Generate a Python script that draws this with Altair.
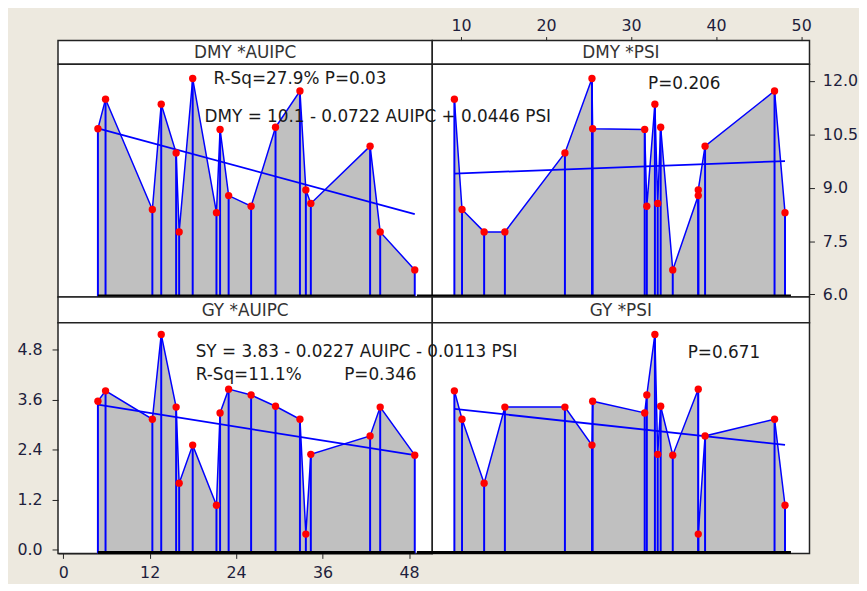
import altair as alt
import pandas as pd

auipc = [4.81, 5.87, 12.37, 13.6, 15.67, 16.09, 17.97, 21.27, 21.77, 22.96,
         26.08, 29.47, 32.86, 33.68, 34.37, 42.6, 44.0, 48.8]
psi = [25.48, 9.22, 10.12, 32.8, 22.22, 12.72, 25.4, 48.1, 31.6, 37.9,
       31.85, 33.48, 46.87, 37.9, 33.13, 38.7, 15.16, 34.9]
dmy = [10.66, 11.49, 8.39, 11.35, 9.98, 7.76, 12.07, 8.30, 10.64, 8.78,
       8.48, 10.70, 11.72, 8.94, 8.56, 10.17, 7.76, 6.69]
gy = [3.56, 3.81, 3.13, 5.16, 3.42, 1.60, 2.51, 1.07, 3.28, 3.85,
      3.71, 3.44, 3.13, 0.38, 2.29, 2.73, 3.42, 2.27]

# ---- axis ticks ----
auipc_ticks = [0, 12, 24, 36, 48]
psi_ticks = [10, 20, 30, 40, 50]
dmy_ticks = [6.0, 7.5, 9.0, 10.5, 12.0]
gy_ticks = [0.0, 1.2, 2.4, 3.6, 4.8]

# ---- panel titles and annotations ----
titles = ["DMY *AUIPC", "DMY *PSI", "GY *AUIPC", "GY *PSI"]
txt_tl = ["R-Sq=27.9% P=0.03"]
txt_tr = ["DMY = 10.1 - 0.0722 AUIPC + 0.0446 PSI", "P=0.206"]
txt_bl = ["R-Sq=11.1%", "P=0.346"]
txt_br = ["SY = 3.83 - 0.0227 AUIPC - 0.0113 PSI", "P=0.671"]

df = pd.DataFrame({"AUIPC": auipc, "PSI": psi, "DMY": dmy, "GY": gy})

FONT = "DejaVu Sans"
BLUE = "#0000FF"
RED = "#FF0000"
GRAY = "#C0C0C0"
EDGE = "#222222"

AUIPC_DOM = [-0.73, 51.23]
PSI_DOM = [6.62, 50.98]
DMY_DOM = [5.93, 12.47]
GY_DOM = [-0.083, 5.44]

WL, WR = 378, 381
H_HDR1, H_TOP, H_HDR2, H_BOT = 24, 235, 26, 233

VIEW = alt.ViewBackground(fill="white", stroke=EDGE, strokeWidth=1.5)


def texts(labels, xs, ys):
    layers = []
    for lab, x, y in zip(labels, xs, ys):
        layers.append(
            alt.Chart(pd.DataFrame({"k": [0]}))
            .mark_text(text=lab, align="left", baseline="middle", font=FONT,
                       fontSize=17, color="#1a1a1a")
            .encode(x=alt.value(x), y=alt.value(y))
        )
    return layers


def panel(xf, yf, xdom, ydom, w, h, xaxis, yaxis, extra):
    base = alt.Chart(df)
    xs = alt.Scale(domain=xdom, nice=False, zero=False)
    ys = alt.Scale(domain=ydom, nice=False, zero=False)
    X = alt.X(f"{xf}:Q", scale=xs, axis=xaxis, title=None)
    Y = alt.Y(f"{yf}:Q", scale=ys, axis=yaxis, title=None, stack=None)
    area = base.mark_area(color=GRAY, opacity=1).encode(x=X, y=Y, y2=alt.value(h))
    drops = base.mark_rule(color=BLUE, strokeWidth=2).encode(x=X, y=Y, y2=alt.value(h))
    basel = (
        base.transform_aggregate(lo=f"min({xf})", hi=f"max({xf})")
        .mark_rule(color="black", strokeWidth=3)
        .encode(
            x=alt.X("lo:Q", scale=xs, axis=xaxis, title=None),
            x2="hi:Q",
            y=alt.value(h - 1),
        )
    )
    line = base.mark_line(color=BLUE, strokeWidth=1.5).encode(x=X, y=Y)
    reg = base.transform_regression(xf, yf).mark_line(color=BLUE, strokeWidth=1.8).encode(x=X, y=Y)
    pts = base.mark_circle(color=RED, size=55, opacity=1).encode(x=X, y=Y)
    return alt.layer(area, drops, basel, line, reg, pts, *extra).properties(
        width=w, height=h, view=VIEW
    )


def header(title, w, h, axis_layer=None):
    t = (
        alt.Chart(pd.DataFrame({"k": [0]}))
        .mark_text(text=title, font=FONT, fontSize=17, color="#333333", baseline="middle")
        .encode(x=alt.value(w / 2), y=alt.value(h / 2 + 1))
    )
    if axis_layer is None:
        return t.properties(width=w, height=h, view=VIEW)
    return alt.layer(axis_layer, t).properties(width=w, height=h, view=VIEW)


ax_common = dict(labelFont=FONT, labelFontSize=16, labelColor="#1e1e3c",
                 tickColor=EDGE, domainColor=EDGE, grid=False)

psi_axis_layer = alt.Chart(df).mark_point(opacity=0).encode(
    x=alt.X("PSI:Q", scale=alt.Scale(domain=PSI_DOM, nice=False, zero=False), title=None,
            axis=alt.Axis(orient="top", values=psi_ticks, format="d", tickSize=4,
                          labelPadding=3, domain=False, **ax_common))
)

dmy_axis = alt.Axis(orient="right", values=dmy_ticks, format=".1f", tickSize=5,
                    labelPadding=8, domain=False, **ax_common)
gy_axis = alt.Axis(orient="left", values=gy_ticks, format=".1f", tickSize=6,
                   labelPadding=10, domain=False, **ax_common)
auipc_axis = alt.Axis(orient="bottom", values=auipc_ticks, format="d", tickSize=5,
                      labelPadding=6, domain=True, **ax_common)

p_tl = panel("AUIPC", "DMY", AUIPC_DOM, DMY_DOM, WL, H_TOP, None, None,
             texts(txt_tl, [157], [15]))
p_tr = panel("PSI", "DMY", PSI_DOM, DMY_DOM, WR, H_TOP, None, dmy_axis,
             texts(txt_tr, [-230, 218], [53, 20]))
p_bl = panel("AUIPC", "GY", AUIPC_DOM, GY_DOM, WL, H_BOT, auipc_axis, gy_axis,
             texts(txt_bl, [139, 289], [53, 53]))
p_br = panel("PSI", "GY", PSI_DOM, GY_DOM, WR, H_BOT, None, None,
             texts(txt_br, [-239, 258], [30, 31]))

h_tl = header(titles[0], WL, H_HDR1)
h_tr = header(titles[1], WR, H_HDR1, psi_axis_layer)
h_bl = header(titles[2], WL, H_HDR2)
h_br = header(titles[3], WR, H_HDR2)

chart = (
    alt.concat(h_tl, h_tr, p_tl, p_tr, h_bl, h_br, p_bl, p_br,
               columns=2, spacing=0, bounds="flush", align="each")
    .properties(padding={"left": 7.5, "top": 6, "right": 0, "bottom": 0})
    .configure(background="#EDE9DF", font=FONT)
)

chart.save("out.html", embed_options={"renderer": "svg", "actions": False})
